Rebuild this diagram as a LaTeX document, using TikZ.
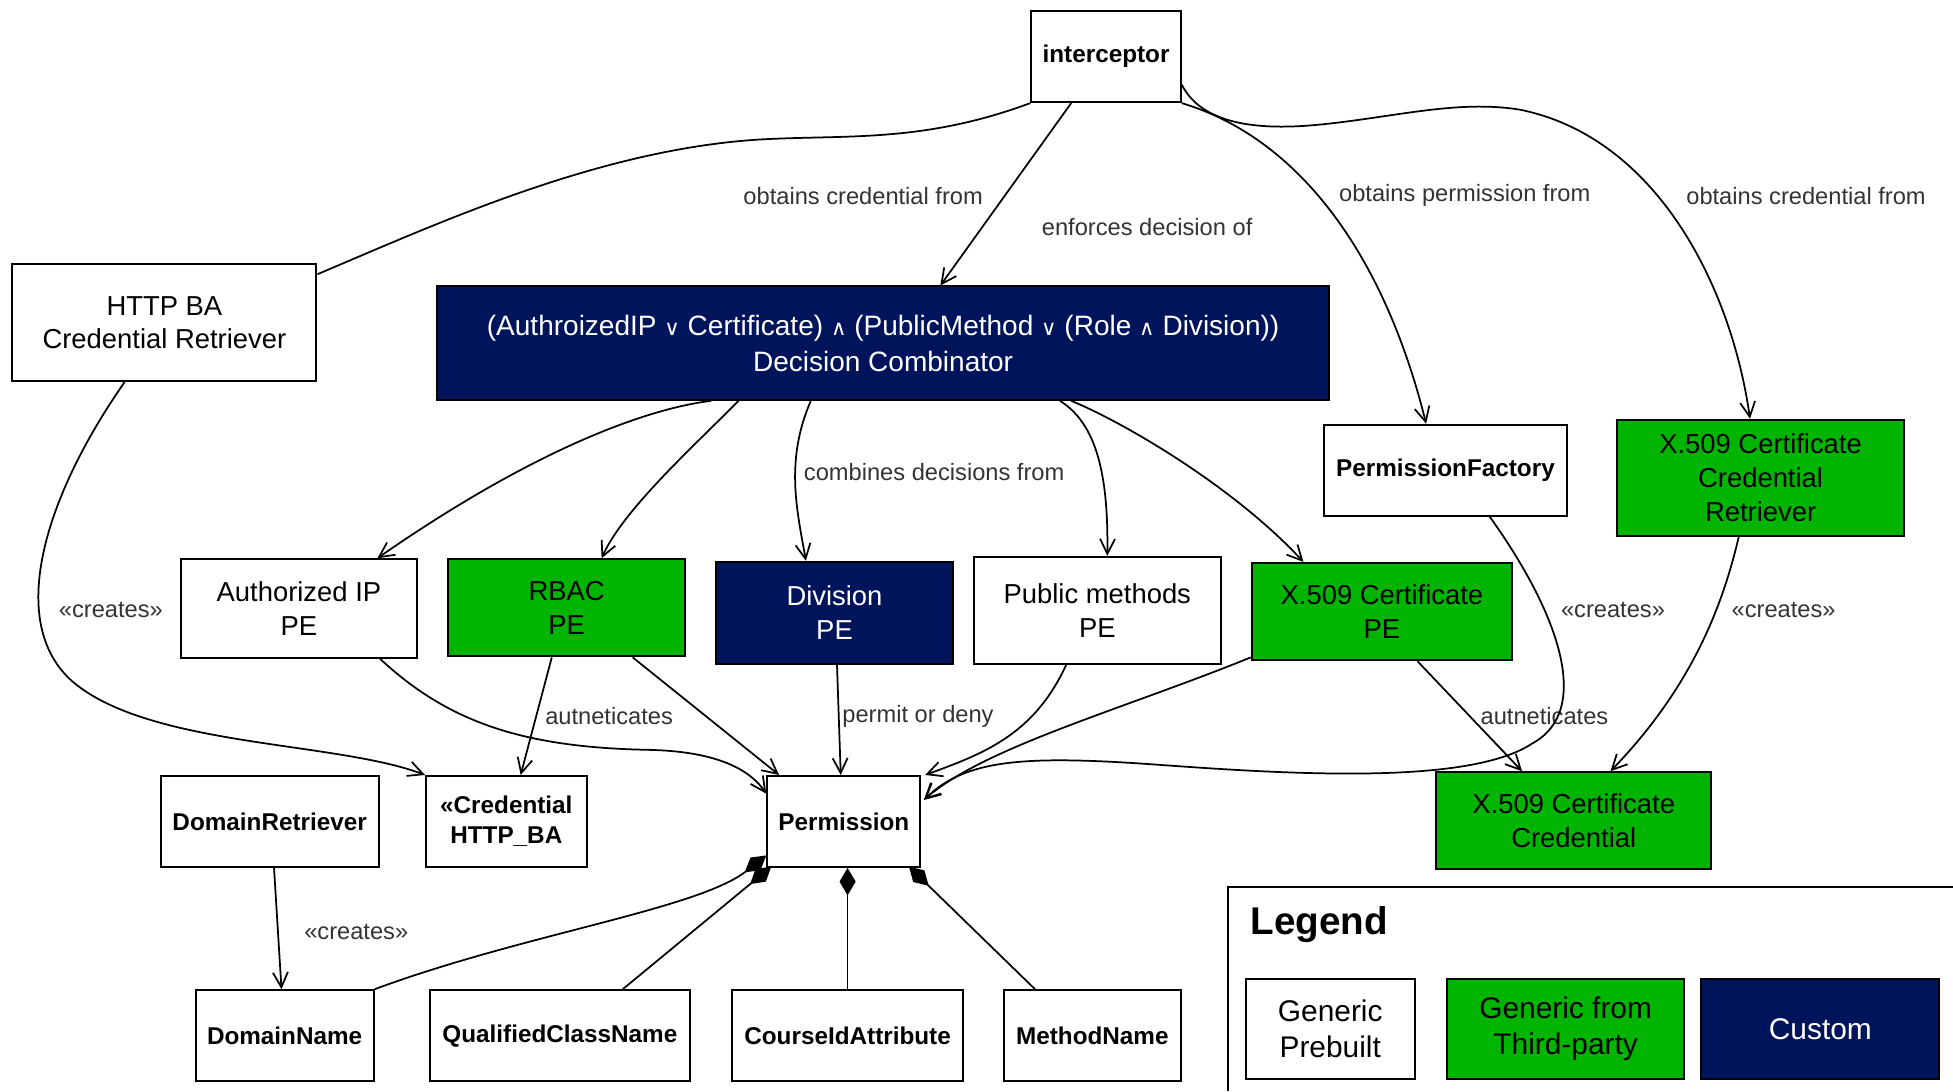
\documentclass[tikz,border=0pt]{standalone}
\usepackage{fontspec}
\setmainfont{Liberation Sans}
\newfontfamily\simbolos{DejaVu Sans}
\usepackage{tikz}
\usetikzlibrary{arrows.meta,backgrounds}
\definecolor{verdeterceros}{RGB}{0,180,0}
\definecolor{azulmarino}{RGB}{0,20,92}
\tikzset{caja/.style={draw, fill=white, line width=1.6pt, align=center, inner sep=0pt, font=\fontsize{22}{27}\selectfont}}
\tikzset{verde/.style={caja, fill=verdeterceros}}
\tikzset{marino/.style={caja, fill=azulmarino, text=white}}
\tikzset{clase/.style={caja, font=\bfseries\fontsize{19.5}{24}\selectfont}}
\tikzset{etiqueta/.style={inner sep=0pt, text=black!80, font=\fontsize{19}{23}\selectfont}}
\tikzset{linea/.style={line width=1.4pt}}
\tikzset{flecha/.style={linea, -{Straight Barb[length=12pt,width=12pt]}}}
\tikzset{rombo/.style={linea, {Diamond[length=22pt,width=13pt]}-}}
\newcommand{\disy}{{\simbolos\fontsize{17}{17}\selectfont ∨}}
\newcommand{\conj}{{\simbolos\fontsize{17}{17}\selectfont ∧}}

\begin{document}
\begin{tikzpicture}[x=1pt, y=-1pt]
            \useasboundingbox (0,0) rectangle (1568,876);

            % clases
            \node[clase, minimum width=120pt, minimum height=73pt] (int) at (888,45.5) {interceptor};
            \node[caja, minimum width=244pt, minimum height=94pt] (http) at (132,259) {HTTP BA\\Credential Retriever};
            \node[marino, minimum width=716pt, minimum height=91pt, font=\fontsize{22.5}{29}\selectfont] (comb) at (709,275.5)
                {(AuthroizedIP \disy{} Certificate) \conj{} (PublicMethod \disy{} (Role \conj{} Division))\\Decision Combinator};
            \node[clase, minimum width=195pt, minimum height=73pt] (pf) at (1160.5,377.5) {PermissionFactory};
            \node[verde, minimum width=231pt, minimum height=93pt] (xret) at (1413.5,383.5) {X.509 Certificate\\Credential\\Retriever};
            \node[caja, minimum width=190pt, minimum height=79pt] (aip) at (240,488.5) {Authorized IP\\PE};
            \node[verde, minimum width=190pt, minimum height=78pt] (rbac) at (455,488) {RBAC\\PE};
            \node[marino, minimum width=190pt, minimum height=82pt] (div) at (670,492) {Division\\PE};
            \node[caja, minimum width=198pt, minimum height=86pt] (pub) at (881,490) {Public methods\\PE};
            \node[verde, minimum width=209pt, minimum height=78pt] (xpe) at (1109.5,491) {X.509 Certificate\\PE};
            \node[clase, minimum width=175pt, minimum height=73pt] (dr) at (216.5,659.5) {DomainRetriever};
            \node[clase, minimum width=129pt, minimum height=73pt] (cred) at (406.5,659.5) {«Credential\\HTTP\_BA};
            \node[clase, minimum width=123pt, minimum height=73pt] (perm) at (677.5,659.5) {Permission};
            \node[verde, minimum width=221pt, minimum height=78pt] (xcred) at (1263.5,659) {X.509 Certificate\\Credential};
            \node[clase, minimum width=143pt, minimum height=73pt] (dn) at (228.5,831.5) {DomainName};
            \node[clase, minimum width=209pt, minimum height=73pt] (qcn) at (449.5,831.5) {QualifiedClassName};
            \node[clase, minimum width=185pt, minimum height=73pt] (cid) at (680.5,831.5) {CourseIdAttribute};
            \node[clase, minimum width=142pt, minimum height=73pt] (mn) at (877,831.5) {MethodName};

            % etiquetas
            \node[etiqueta] (l1) at (693,157) {obtains credential from};
            \node[etiqueta] (l2) at (921,182) {enforces decision of};
            \node[etiqueta] (l3) at (1176,157) {obtains permission from};
            \node[etiqueta] (l4) at (1450,157) {obtains credential from};
            \node[etiqueta] (l5) at (750,379) {combines decisions from};
            \node[etiqueta] (l6) at (89,490) {«creates»};
            \node[etiqueta] (l7) at (489,575) {autneticates};
            \node[etiqueta] (l8) at (737,575) {permit or deny};
            \node[etiqueta] (l9) at (1240,575) {autneticates};
            \node[etiqueta] (l10) at (1295,490) {«creates»};
            \node[etiqueta] (l11) at (1432,490) {«creates»};
            \node[etiqueta] (l12) at (286,748) {«creates»};

            % interceptor
            \draw[linea] (int.south west) .. controls (740,115) and (680,108) .. (610,112)
                .. controls (480,120) and (350,180) .. ([yshift=-9pt]http.north east);
            \draw[flecha] ([xshift=-28pt]int.south) -- ([xshift=46pt]comb.north);
            \draw[flecha] (int.south east) .. controls (1040,110) and (1110,200) .. ([xshift=-15.5pt]pf.north);
            \draw[flecha] ([yshift=-22.5pt]int.east) .. controls (965,100) and (1010,105) .. (1060,100)
                .. controls (1120,94) and (1170,80) .. (1220,88)
                .. controls (1330,110) and (1390,230) .. ([xshift=-8.5pt]xret.north);

            % combinador
            \draw[flecha] ([xshift=-138pt]comb.south) .. controls (520,328) and (430,360) .. ([xshift=63pt]aip.north);
            \draw[flecha] ([xshift=-116pt]comb.south) .. controls (555,360) and (500,410) .. ([xshift=28pt]rbac.north);
            \draw[flecha] ([xshift=-58pt]comb.south) .. controls (630,370) and (640,410) .. ([xshift=-23pt]div.north);
            \draw[flecha] ([xshift=142pt]comb.south) .. controls (880,340) and (890,380) .. ([xshift=8pt]pub.north);
            \draw[flecha] ([xshift=151pt]comb.south) .. controls (900,338) and (990,390) .. ([xshift=-63pt]xpe.north);

            % creates / autneticates
            \draw[flecha] ([xshift=-32pt]http.south) .. controls (35,400) and (5,500) .. (58,547)
                .. controls (120,600) and (270,595) .. (cred.north west);
            \draw[flecha] ([xshift=-12pt]rbac.south) -- ([xshift=11.5pt]cred.north);
            \draw[flecha] ([xshift=28.5pt]xpe.south) -- ([xshift=-41.5pt]xcred.north);
            \draw[flecha] ([xshift=-17.5pt]xret.south) .. controls (1380,500) and (1350,560) .. ([xshift=29.5pt]xcred.north);
            \draw[flecha] ([xshift=3.5pt]dr.south) -- ([xshift=-2.5pt]dn.north);

            % permit or deny
            \draw[flecha] ([xshift=65pt]aip.south) .. controls (360,580) and (420,600) .. (520,602)
                .. controls (570,603) and (600,615) .. ([yshift=-15pt]perm.north west);
            \draw[flecha] ([xshift=53pt]rbac.south) -- ([xshift=-52pt]perm.north);
            \draw[flecha] ([xshift=2pt]div.south) -- ([xshift=-2.5pt]perm.north);
            \draw[flecha] ([xshift=-25pt]pub.south) .. controls (830,590) and (790,605) .. ([xshift=3pt]perm.north east);
            \draw[flecha] ([yshift=3pt]xpe.south west) .. controls (900,570) and (790,600) .. ([xshift=2pt,yshift=-20pt]perm.north east);
            \draw[flecha] ([xshift=35.5pt]pf.south) .. controls (1250,490) and (1280,570) .. (1230,597)
                .. controls (1180,630) and (1040,622) .. (930,614)
                .. controls (820,606) and (775,610) .. ([xshift=2pt,yshift=-20pt]perm.north east);

            % composicion (rombos medio tapados por la caja)
            \begin{scope}[on background layer]
            \draw[rombo] ([yshift=10pt]perm.south west) .. controls (560,730) and (420,750) .. (dn.north east);
            \draw[rombo] ([xshift=4pt,yshift=1pt]perm.south west) -- ([xshift=50.5pt]qcn.north);
            \draw[rombo] (cid.north |- perm.south) -- (cid.north);
            \draw[rombo] ([xshift=-10pt,yshift=1pt]perm.south east) -- ([xshift=-46pt]mn.north);
            \end{scope}

            % leyenda
            \draw[line width=1.6pt] (1568,712) -| (986,876);
            \node[anchor=west, inner sep=0pt, font=\bfseries\fontsize{31}{36}\selectfont] (leyenda) at (1004,742) {Legend};
            \node[caja, font=\fontsize{24}{29}\selectfont, minimum width=136pt, minimum height=80pt] (gp) at (1068,826) {Generic\\Prebuilt};
            \node[verde, font=\fontsize{24}{29}\selectfont, minimum width=190pt, minimum height=80pt] (tp) at (1257,826) {Generic from\\Third-party};
            \node[marino, font=\fontsize{24}{29}\selectfont, minimum width=191pt, minimum height=80pt] (cu) at (1461.5,826) {Custom};
        \end{tikzpicture}
\end{document}
